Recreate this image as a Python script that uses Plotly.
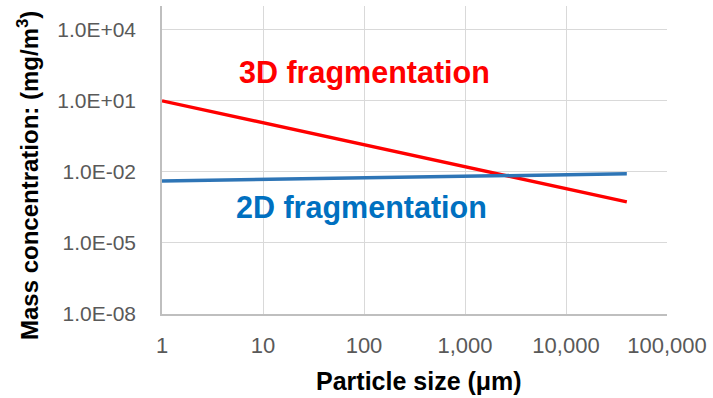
import plotly.graph_objects as go

# Data
particle_size_um = [1, 10, 100, 1000, 10000, 40000]
conc_3d = [10, 1.18, 0.140, 0.0166, 0.00196, 0.00054]
conc_2d = [0.0041, 0.00475, 0.00555, 0.00646, 0.00755, 0.00828]

x_tickvals = [1, 10, 100, 1000, 10000, 100000]
x_ticktext = ["1", "10", "100", "1,000", "10,000", "100,000"]
y_tickvals = [1e-8, 1e-5, 1e-2, 1e1, 1e4]
y_ticktext = ["1.0E-08", "1.0E-05", "1.0E-02", "1.0E+01", "1.0E+04"]

W, H = 713, 398
L, R, T, B = 162, 42, 6, 84
pw, ph = W - L - R, H - T - B

def px(xp):
    return (xp - L) / pw

def py(yp):
    return (H - B - yp) / ph

fig = go.Figure()
fig.add_trace(go.Scatter(x=particle_size_um, y=conc_3d, mode="lines",
                         line=dict(color="#FF0000", width=3.3), showlegend=False))
fig.add_trace(go.Scatter(x=particle_size_um, y=conc_2d, mode="lines",
                         line=dict(color="#2E75B6", width=3.5), showlegend=False))

font = "Liberation Sans, Arial, sans-serif"

fig.update_layout(
    width=W, height=H,
    margin=dict(l=L, r=R, t=T, b=B),
    paper_bgcolor="white", plot_bgcolor="white",
    font=dict(family=font, color="#595959"),
    xaxis=dict(type="log", range=[0, 5], tickvals=x_tickvals, ticktext=x_ticktext,
               showgrid=True, gridcolor="#D9D9D9", gridwidth=1.3,
               showline=True, linecolor="#BFBFBF", linewidth=1.5,
               ticks="", ticklabelstandoff=11,
               tickfont=dict(size=22, color="#595959"), mirror=False),
    yaxis=dict(type="log", range=[-8, 5], tickvals=y_tickvals, ticktext=y_ticktext,
               showgrid=True, gridcolor="#D9D9D9", gridwidth=1.3,
               showline=True, linecolor="#BFBFBF", linewidth=1.5,
               ticks="", ticklabelstandoff=20,
               tickfont=dict(size=21, color="#595959")),
    annotations=[
        dict(text="3D fragmentation", xref="paper", yref="paper",
             x=px(238), y=py(72), xanchor="left", yanchor="middle", showarrow=False,
             font=dict(family=font, size=30.5, color="#FF0000", weight="bold")),
        dict(text="2D fragmentation", xref="paper", yref="paper",
             x=px(235), y=py(207), xanchor="left", yanchor="middle", showarrow=False,
             font=dict(family=font, size=30.5, color="#0070C0", weight="bold")),
        dict(text="Particle size (μm)", xref="paper", yref="paper",
             x=px(421.5), y=py(381), xanchor="center", yanchor="middle", showarrow=False,
             font=dict(family=font, size=25, color="#000000", weight="bold")),
        dict(text="Mass concentration: (mg/m<sup>3</sup>)", xref="paper", yref="paper",
             x=px(27), y=py(176), xanchor="center", yanchor="middle", showarrow=False,
             textangle=-90,
             font=dict(family=font, size=24, color="#000000", weight="bold")),
    ],
)

fig.write_html("out.html")
